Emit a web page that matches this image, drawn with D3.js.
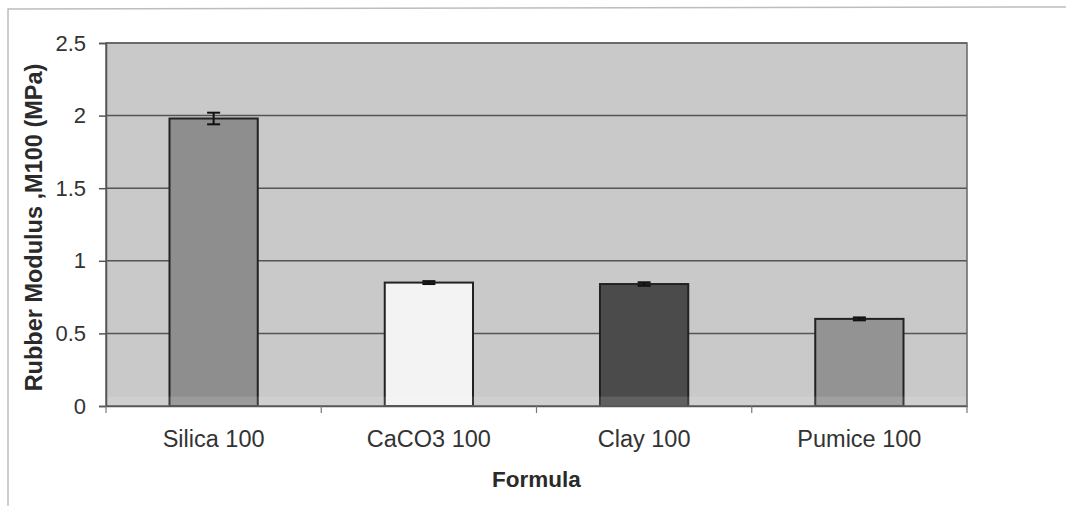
<!DOCTYPE html>
<html><head><meta charset="utf-8">
<script src="https://cdn.jsdelivr.net/npm/d3@7"></script>
<style>
html,body{margin:0;padding:0;background:#fff;}
svg{display:block;font-family:"Liberation Sans",Arial,sans-serif;}
</style></head>
<body>
<svg id="chart" width="1066" height="506"></svg>
<script>
const categories = ["Silica 100", "CaCO3 100", "Clay 100", "Pumice 100"];
const values = [1.98, 0.85, 0.84, 0.60];
const errors = [0.04, 0.01, 0.012, 0.01];
const yTicks = [0, 0.5, 1, 1.5, 2, 2.5];
const barColors = ["#8e8e8e", "#f3f3f3", "#4b4b4b", "#939393"];
const xTitle = "Formula";
const yTitle = "Rubber Modulus ,M100 (MPa)";

const svg = d3.select("#chart");
const m = {left:106, top:43, right:99, bottom:100};
const W = 1066, H = 506;
const pw = W - m.left - m.right, ph = H - m.top - m.bottom;

// outer frame
svg.append("path").attr("d", `M8,${H} L8,9 L${W},7`).attr("fill","none").attr("stroke","#bdbdbd").attr("stroke-width",1.5);

const x = d3.scaleBand().domain(categories).range([0, pw]).paddingInner(0.59).paddingOuter(0.295);
const xb = d3.scaleBand().domain(categories).range([0, pw]);
const y = d3.scaleLinear().domain([0, 2.5]).range([ph, 0]);

const g = svg.append("g").attr("transform", `translate(${m.left},${m.top})`);

// plot bg
g.append("rect").attr("width", pw).attr("height", ph).attr("fill", "#c9c9c9");

// grid
g.selectAll(".grid").data(yTicks.filter(d=>d>0)).join("line")
  .attr("x1",0).attr("x2",pw).attr("y1",d=>y(d)).attr("y2",d=>y(d))
  .attr("stroke","#555").attr("stroke-width",1.5);

// bars
g.selectAll(".bar").data(values).join("rect")
  .attr("x",(d,i)=>x(categories[i])).attr("width",x.bandwidth())
  .attr("y",d=>y(d)).attr("height",d=>ph-y(d))
  .attr("fill",(d,i)=>barColors[i]).attr("stroke","#222").attr("stroke-width",2);

// lighter band at bottom
g.append("rect").attr("x",0).attr("width",pw).attr("y",y(0.065)).attr("height",ph-y(0.065))
  .attr("fill","#fff").attr("opacity",0.12);

// error bars
const eb = g.selectAll(".err").data(values).join("g");
eb.append("line")
  .attr("x1",(d,i)=>x(categories[i])+x.bandwidth()/2).attr("x2",(d,i)=>x(categories[i])+x.bandwidth()/2)
  .attr("y1",(d,i)=>y(d+errors[i])).attr("y2",(d,i)=>y(d-errors[i]))
  .attr("stroke","#111").attr("stroke-width",2);
["+","-"].forEach(s=>{
  eb.append("line")
    .attr("x1",(d,i)=>x(categories[i])+x.bandwidth()/2-6.5).attr("x2",(d,i)=>x(categories[i])+x.bandwidth()/2+6.5)
    .attr("y1",(d,i)=>y(s==="+"?d+errors[i]:d-errors[i])).attr("y2",(d,i)=>y(s==="+"?d+errors[i]:d-errors[i]))
    .attr("stroke","#111").attr("stroke-width",2);
});

// plot border
g.append("rect").attr("width",pw).attr("height",ph).attr("fill","none").attr("stroke","#666").attr("stroke-width",1.5);

// y axis
const yAxis = g.append("g").call(d3.axisLeft(y).tickValues(yTicks).tickSize(7).tickPadding(13).tickFormat(d3.format("")));
yAxis.select(".domain").attr("stroke","#555").attr("stroke-width",1.5);
yAxis.selectAll(".tick line").attr("stroke","#555").attr("stroke-width",1.5);
yAxis.selectAll(".tick text").attr("font-size",22).attr("fill","#333").attr("font-family","Liberation Sans, Arial, sans-serif");

// x axis
const xAxis = g.append("g").attr("transform",`translate(0,${ph})`)
  .call(d3.axisBottom(xb).tickSize(0).tickPadding(24));
xAxis.select(".domain").attr("stroke","#555").attr("stroke-width",1.5);
xAxis.selectAll(".tick text").attr("font-size",23.5).attr("fill","#333").attr("font-family","Liberation Sans, Arial, sans-serif");
// boundary ticks
g.selectAll(".xbt").data(d3.range(categories.length+1)).join("line")
  .attr("x1",i=>i*xb.step()).attr("x2",i=>i*xb.step())
  .attr("y1",ph).attr("y2",ph+7).attr("stroke","#777").attr("stroke-width",1.2);

// titles
svg.append("text").attr("x", m.left+pw/2).attr("y", 487).attr("text-anchor","middle")
  .attr("font-size",22.5).attr("font-weight","bold").attr("fill","#2a2a2a").text(xTitle);
svg.append("text").attr("transform",`translate(42,${m.top+ph/2+3}) rotate(-90)`).attr("text-anchor","middle")
  .attr("font-size",23.5).attr("font-weight","bold").attr("fill","#2a2a2a").text(yTitle);
</script>
</body></html>
